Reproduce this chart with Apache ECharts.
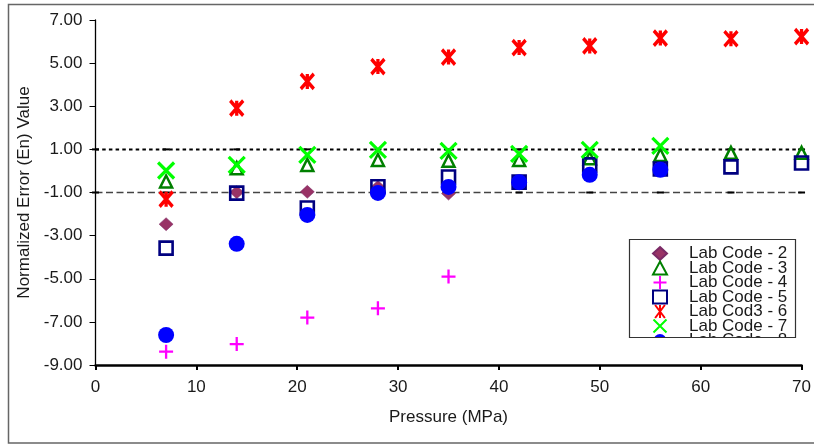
<!DOCTYPE html>
<html><head><meta charset="utf-8">
<script src="https://cdn.jsdelivr.net/npm/echarts@6/dist/echarts.min.js"></script>
<style>html,body{margin:0;padding:0;background:#fff}#c{width:814px;height:445px}</style>
</head><body><div id="c"></div>
<script>
// ---- data ----
const pressures = [7, 14, 21, 28, 35, 42, 49, 56, 63, 70];
const seriesNames = ['Lab Code - 2', 'Lab Code - 3', 'Lab Code - 4', 'Lab Code - 5', 'Lab Cod3 - 6', 'Lab Code - 7', 'Lab Code - 8'];
const lab2 = [-2.47, -0.99, -0.97, -0.74, -1.05];
const lab3 = [-0.49, 0.13, 0.28, 0.51, 0.47, 0.51, 0.59, 0.74, 0.84, 0.84];
const lab4 = [-8.38, -8.03, -6.80, -6.37, -4.90];
const lab5 = [-3.58, -1.03, -1.72, -0.73, -0.28, -0.52, 0.28, 0.09, 0.19, 0.37];
const lab6 = [-1.31, 2.91, 4.15, 4.84, 5.28, 5.72, 5.80, 6.16, 6.13, 6.23];
const lab7 = [0.02, 0.28, 0.75, 0.98, 0.93, 0.79, 0.98, 1.16];
const lab8 = [-7.61, -3.38, -2.04, -1.02, -0.74, -0.52, -0.18, 0.05];
const limitX = [0, 7, 14, 21, 28, 35, 42, 49, 56, 63, 70];
const upperLimit = 1;
const lowerLimit = -1;
const yMin = -9, yMax = 7, yStep = 2;
const xMin = 0, xMax = 70, xStep = 10;

const pair = vals => vals.map((v, i) => [pressures[i], v]);
const FONT = '"Liberation Sans", Arial, sans-serif';

const styles = [
  { symbol: 'diamond', symbolSize: [14, 13], itemStyle: { color: '#993366', borderColor: '#7a2a66', borderWidth: 0.5, opacity: 1 } },
  { symbol: 'triangle', symbolSize: 12, itemStyle: { color: 'rgba(0,0,0,0)', borderColor: '#008000', borderWidth: 2.5, opacity: 1 } },
  { symbol: 'path://M5,0L5,10M0,5L10,5', symbolSize: 14, itemStyle: { color: 'rgba(0,0,0,0)', borderColor: '#FF00FF', borderWidth: 2.3, opacity: 1 } },
  { symbol: 'rect', symbolSize: 13, itemStyle: { color: 'rgba(0,0,0,0)', borderColor: '#000080', borderWidth: 2.6, opacity: 1 } },
  { symbol: 'path://M0,0L12,16M12,0L0,16M6,0L6,16', symbolSize: [13, 15], itemStyle: { color: 'rgba(0,0,0,0)', borderColor: '#FF0000', borderWidth: 3.5, opacity: 1 } },
  { symbol: 'path://M0,0L10,10M10,0L0,10', symbolSize: 16, itemStyle: { color: 'rgba(0,0,0,0)', borderColor: '#00FF00', borderWidth: 3.2, opacity: 1 } },
  { symbol: 'circle', symbolSize: 16, itemStyle: { color: '#0000FF', opacity: 1 } }
];
const values = [lab2, lab3, lab4, lab5, lab6, lab7, lab8];

const scatterSeries = values.map((vals, i) => Object.assign({
  type: 'scatter', name: seriesNames[i], data: pair(vals), z: 3 + i,
  emphasis: { disabled: true }
}, styles[i]));

const limitSeries = [
  { type: 'line', name: 'upper', data: limitX.map(x => [x, upperLimit]), z: 2,
    symbol: 'rect', symbolSize: [7, 2], showSymbol: true, itemStyle: { color: '#000', opacity: 1 },
    lineStyle: { color: '#000', width: 2, type: [3.5, 3.2] }, emphasis: { disabled: true } },
  { type: 'line', name: 'lower', data: limitX.map(x => [x, lowerLimit]), z: 2,
    symbol: 'rect', symbolSize: [7, 2], showSymbol: true, itemStyle: { color: '#000', opacity: 1 },
    lineStyle: { color: '#444', width: 1.5, type: [7, 3.5] }, emphasis: { disabled: true } }
];

const chart = echarts.init(document.getElementById('c'), null, { renderer: 'canvas' });
chart.setOption({
  animation: false,
  backgroundColor: '#fff',
  textStyle: { fontFamily: FONT },
  grid: { left: 95.5, right: 2, top: 20, bottom: 80, containLabel: false },
  xAxis: {
    type: 'value', min: xMin, max: xMax, interval: xStep,
    name: 'Pressure (MPa)', nameLocation: 'middle', nameGap: 44,
    nameTextStyle: { fontSize: 17, color: '#1a1a1a', fontFamily: FONT },
    axisLine: { onZero: false, lineStyle: { color: '#000', width: 2.5 } },
    axisTick: { length: 5, lineStyle: { color: '#000', width: 2 } },
    axisLabel: { fontSize: 17, color: '#1a1a1a', margin: 14, fontFamily: FONT },
    splitLine: { show: false }
  },
  yAxis: {
    type: 'value', min: yMin, max: yMax, interval: yStep,
    name: 'Normalized Error (En) Value', nameLocation: 'middle', nameGap: 59,
    nameTextStyle: { fontSize: 17, color: '#1a1a1a', fontFamily: FONT },
    axisLine: { onZero: false, lineStyle: { color: '#000', width: 1.3 } },
    axisTick: { length: 6, lineStyle: { color: '#000', width: 1 } },
    axisLabel: { fontSize: 17, color: '#1a1a1a', margin: 13, fontFamily: FONT, formatter: v => v.toFixed(2) },
    splitLine: { show: false }
  },
  legend: {
    orient: 'vertical', left: 629, top: 239,
    padding: [6, 0, 0, 23],
    itemWidth: 14, itemHeight: 13, itemGap: -2.5,
    backgroundColor: '#fff',
    data: seriesNames,
    selectedMode: false,
    textStyle: { fontSize: 17, color: '#1a1a1a', fontFamily: FONT, padding: [0, 0, 0, 17] }
  },
  graphic: [
    { type: 'rect', z: 100, silent: true, shape: { x: 628, y: 338, width: 172, height: 14 }, style: { fill: '#fff' } },
    { type: 'rect', z: 101, silent: true, shape: { x: 629.5, y: 239.5, width: 166, height: 98 }, style: { fill: 'none', stroke: '#333', lineWidth: 1.2 } },
    { type: 'rect', z: 101, silent: true, shape: { x: 8.5, y: 4.5, width: 840, height: 438.5 }, style: { fill: 'none', stroke: '#666', lineWidth: 1.5 } }
  ],
  series: limitSeries.concat(scatterSeries)
});
</script>
</body></html>
